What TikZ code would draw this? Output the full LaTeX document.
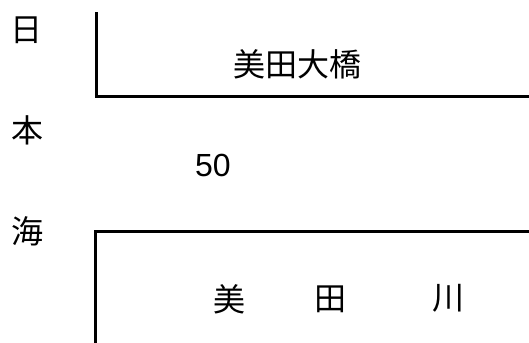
\documentclass[tikz,border=0pt]{standalone}
\usepackage{fontspec}
\setmainfont{Liberation Sans}
\newfontfamily\jpfont{Noto Sans CJK JP}
\begin{document}
\begin{tikzpicture}[x=0.75pt,y=-0.75pt,
  jp/.style={font=\jpfont\fontsize{24}{28}\selectfont,inner sep=0pt},
  num/.style={font=\fontsize{24}{28}\selectfont,inner sep=0pt},
  bank/.style={line width=2.25pt}]
\useasboundingbox (0,0) rectangle (529,343);
\node[jp] (ni) at (26.5,30) {日};
\node[jp] (hon) at (27.5,130.5) {本};
\node[jp] (kai) at (28,231) {海};
\node[jp] (bridge) at (297,64.5) {美田大橋};
\node[num] (dist) at (213,165.5) {50};
\node[jp] (mi) at (229,299) {美};
\node[jp] (ta) at (330,299) {田};
\node[jp] (kawa) at (448.5,298.5) {川};
\draw[bank] (96,12) -- (96,96) -- (529,96);
\draw[bank] (529,231) -- (95,231) -- (95,343);
\end{tikzpicture}
\end{document}
